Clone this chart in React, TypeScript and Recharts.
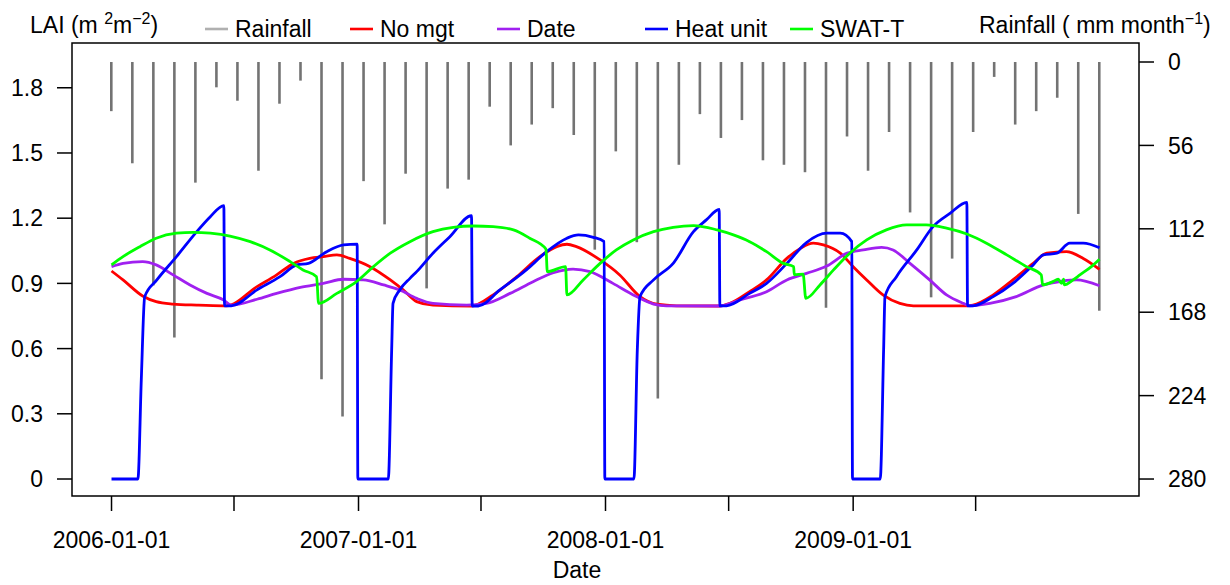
import React from 'react';
import { ComposedChart, Bar, Line, XAxis, YAxis, ReferenceArea } from 'recharts';

const FONT = '"Liberation Sans", Arial, Helvetica, sans-serif';

// ---- Rainfall (mm month^-1), monthly 2006-01 .. 2009-12 ----
const rainMonths = [
  '2006-01','2006-02','2006-03','2006-04','2006-05','2006-06','2006-07','2006-08','2006-09','2006-10','2006-11','2006-12',
  '2007-01','2007-02','2007-03','2007-04','2007-05','2007-06','2007-07','2007-08','2007-09','2007-10','2007-11','2007-12',
  '2008-01','2008-02','2008-03','2008-04','2008-05','2008-06','2008-07','2008-08','2008-09','2008-10','2008-11','2008-12',
  '2009-01','2009-02','2009-03','2009-04','2009-05','2009-06','2009-07','2009-08','2009-09','2009-10','2009-11','2009-12',
];
const rainfall = [
  33, 68, 150, 185, 81, 17, 26, 73, 28, 12.5, 213, 238,
  80, 109, 75, 152, 85, 79, 30, 56, 42, 31, 49, 126,
  60, 121, 226, 69, 35, 51, 39, 66, 69, 74, 165, 50,
  73, 47, 101, 158, 132, 47, 10, 42, 33, 24, 102, 167,
];

// ---- LAI series ----
const noMgtDates = [
  '2006-01-01','2006-01-18','2006-02-16','2006-03-08','2006-04-02','2006-05-07','2006-06-15','2006-06-20','2006-08-04','2006-09-02',
  '2006-09-27','2006-10-21','2006-11-10','2006-11-30','2006-12-19','2007-01-18','2007-02-17','2007-03-08','2007-03-28','2007-04-21',
  '2007-06-17','2007-07-19','2007-08-23','2007-09-26','2007-10-21','2007-11-05','2007-11-19','2007-12-24','2008-01-22','2008-02-21',
  '2008-03-17','2008-04-15','2008-06-17','2008-07-03','2008-08-01','2008-08-26','2008-09-25','2008-10-15','2008-11-03','2008-11-18',
  '2008-12-13','2009-01-01','2009-01-21','2009-02-14','2009-03-11','2009-03-31','2009-06-18','2009-06-27','2009-07-27','2009-08-25',
  '2009-09-24','2009-10-14','2009-11-12','2009-12-07','2009-12-31',
];
const noMgtLAI = [
  0.957, 0.916, 0.842, 0.816, 0.805, 0.800, 0.797, 0.797, 0.885, 0.939,
  0.992, 1.015, 1.023, 1.031, 1.015, 0.977, 0.916, 0.870, 0.816, 0.800,
  0.796, 0.847, 0.931, 1.023, 1.069, 1.080, 1.069, 1.008, 0.939, 0.839,
  0.804, 0.797, 0.796, 0.808, 0.862, 0.916, 1.015, 1.061, 1.085, 1.077,
  1.039, 0.977, 0.916, 0.847, 0.808, 0.797, 0.797, 0.800, 0.847, 0.916,
  0.992, 1.039, 1.046, 1.015, 0.965,
];

const dateDates = [
  '2006-01-01','2006-01-18','2006-02-16','2006-03-08','2006-04-02','2006-04-27','2006-05-22','2006-06-15','2006-06-27','2006-08-04',
  '2006-09-02','2006-10-07','2006-11-10','2006-12-10','2007-01-08','2007-02-07','2007-03-03','2007-03-28','2007-04-21','2007-06-10',
  '2007-07-09','2007-08-13','2007-09-16','2007-10-16','2007-11-14','2007-12-09','2008-01-12','2008-02-11','2008-03-12','2008-03-31',
  '2008-06-17','2008-07-18','2008-08-26','2008-09-25','2008-10-24','2008-11-23','2008-12-23','2009-01-16','2009-02-12','2009-03-01',
  '2009-03-26','2009-04-24','2009-05-19','2009-06-13','2009-06-22','2009-07-22','2009-08-30','2009-10-09','2009-11-07','2009-11-27',
  '2009-12-31',
];
const dateLAI = [
  0.977, 0.992, 1.000, 0.985, 0.939, 0.893, 0.854, 0.825, 0.800, 0.827,
  0.854, 0.882, 0.900, 0.919, 0.916, 0.893, 0.870, 0.831, 0.808, 0.800,
  0.808, 0.854, 0.908, 0.949, 0.966, 0.954, 0.900, 0.847, 0.805, 0.797,
  0.796, 0.824, 0.862, 0.916, 0.946, 0.980, 1.039, 1.054, 1.066, 1.054,
  0.992, 0.916, 0.847, 0.808, 0.797, 0.808, 0.839, 0.893, 0.911, 0.916,
  0.889,
];

const heatDates = [
  '2006-01-01','2006-02-09','2006-02-14','2006-02-19','2006-03-09','2006-04-07','2006-05-07','2006-05-27','2006-06-16','2006-06-17',
  '2006-06-27','2006-08-04','2006-09-07','2006-10-02','2006-10-19','2006-11-15','2006-12-10','2006-12-30','2006-12-31','2007-02-14',
  '2007-02-19','2007-02-21','2007-03-03','2007-03-18','2007-03-28','2007-04-21','2007-05-16','2007-06-17','2007-06-18','2007-06-27',
  '2007-07-29','2007-09-06','2007-10-06','2007-11-05','2007-11-22','2007-12-14','2007-12-30','2007-12-31','2008-02-12','2008-02-17',
  '2008-02-21','2008-03-12','2008-04-10','2008-05-10','2008-05-29','2008-06-17','2008-06-18','2008-06-28','2008-08-01','2008-08-26',
  '2008-09-25','2008-10-24','2008-11-23','2008-12-13','2008-12-30','2008-12-31','2009-02-10','2009-02-15','2009-02-17','2009-03-06',
  '2009-04-05','2009-04-29','2009-05-24','2009-06-18','2009-06-19','2009-06-27','2009-07-27','2009-08-25','2009-09-24','2009-10-09',
  '2009-10-29','2009-11-17','2009-12-07','2009-12-31',
];
const heatLAI = [
  0, 0, 0.456, 0.839, 0.916, 1.023, 1.138, 1.207, 1.258, 0.797,
  0.797, 0.870, 0.931, 0.985, 0.992, 1.046, 1.077, 1.081, 0, 0,
  0.594, 0.808, 0.870, 0.923, 0.954, 1.039, 1.115, 1.212, 0.796, 0.796,
  0.870, 0.962, 1.046, 1.108, 1.123, 1.112, 1.092, 0, 0, 0.594,
  0.839, 0.916, 0.992, 1.138, 1.192, 1.240, 0.797, 0.797, 0.854, 0.900,
  0.992, 1.088, 1.131, 1.131, 1.092, 0, 0, 0.594, 0.839, 0.931,
  1.054, 1.161, 1.222, 1.273, 0.797, 0.797, 0.839, 0.900, 0.985, 1.031,
  1.039, 1.085, 1.085, 1.064,
];

const swatDates = [
  '2006-01-01','2006-01-18','2006-02-12','2006-03-08','2006-04-07','2006-05-02','2006-05-27','2006-06-25','2006-07-25','2006-08-23',
  '2006-09-22','2006-10-11','2006-10-31','2006-11-03','2006-11-30','2006-12-29','2007-01-23','2007-02-17','2007-03-18','2007-04-21',
  '2007-05-21','2007-06-20','2007-07-19','2007-08-18','2007-09-11','2007-10-05','2007-10-07','2007-11-03','2007-11-05','2007-11-29',
  '2007-12-24','2008-01-17','2008-02-11','2008-03-12','2008-04-10','2008-05-10','2008-06-14','2008-07-08','2008-08-01','2008-08-26',
  '2008-09-20','2008-10-05','2008-10-06','2008-10-19','2008-10-23','2008-11-13','2008-12-03','2008-12-27','2009-01-21','2009-02-19',
  '2009-03-21','2009-04-19','2009-05-19','2009-06-18','2009-07-17','2009-08-16','2009-09-14','2009-10-06','2009-10-08','2009-10-23',
  '2009-10-31','2009-11-05','2009-11-08','2009-11-09','2009-11-22','2009-12-02','2009-12-19','2009-12-31',
];
const swatLAI = [
  0.985, 1.023, 1.069, 1.108, 1.131, 1.135, 1.131, 1.118, 1.092, 1.054,
  1.000, 0.962, 0.931, 0.808, 0.854, 0.908, 0.977, 1.039, 1.092, 1.138,
  1.158, 1.164, 1.161, 1.146, 1.108, 1.058, 0.954, 0.977, 0.847, 0.916,
  0.992, 1.054, 1.100, 1.138, 1.158, 1.166, 1.146, 1.123, 1.092, 1.046,
  0.992, 0.977, 0.939, 0.943, 0.831, 0.893, 0.962, 1.039, 1.100, 1.146,
  1.169, 1.169, 1.154, 1.127, 1.085, 1.031, 0.977, 0.939, 0.893, 0.908,
  0.919, 0.900, 0.919, 0.893, 0.916, 0.939, 0.977, 1.011,
];

// ---- Axis ticks ----
const xTickDates = ['2006-01-01','2006-07-01','2007-01-01','2007-07-01','2008-01-01','2008-07-01','2009-01-01','2009-07-01'];
const xTickLabels = ['2006-01-01','','2007-01-01','','2008-01-01','','2009-01-01',''];
const laiTicks = [0, 0.3, 0.6, 0.9, 1.2, 1.5, 1.8];
const rainTicks = [0, 56, 112, 168, 224, 280];

const legendItems = [
  { label: 'Rainfall', color: '#b0b0b0' },
  { label: 'No mgt', color: '#ff0000' },
  { label: 'Date', color: '#a020f0' },
  { label: 'Heat unit', color: '#0000ff' },
  { label: 'SWAT-T', color: '#00ff00' },
];
const legendX = [205, 350, 497, 645, 790];

// ---- helpers ----
const dayOf = (s: string) => {
  const [y, m, d] = s.split('-').map(Number);
  return (Date.UTC(y, m - 1, d) - Date.UTC(2006, 0, 1)) / 86400000;
};
const toRows = (dates: string[], vals: number[]) => dates.map((d, i) => ({ t: dayOf(d), v: vals[i] }));

const rainRows = rainMonths.map((m, i) => ({ month: m, idx: i + 1, rain: rainfall[i] }));
const noMgtRows = toRows(noMgtDates, noMgtLAI);
const dateRows = toRows(dateDates, dateLAI);
const heatRows = toRows(heatDates, heatLAI);
const swatRows = toRows(swatDates, swatLAI);

const spanDays = dayOf('2009-12-31');
const padDays = spanDays * 0.04;
const dayDomain: [number, number] = [-padDays, spanDays + padDays];
const idxPad = (rainMonths.length - 1) * 0.04;
const idxDomain: [number, number] = [1 - idxPad, rainMonths.length + idxPad];
const laiDomain: [number, number] = [-0.0782, 2.006];
const rainDomain: [number, number] = [-12.76, 291.4];

const xTickDays = xTickDates.map(dayOf);
const xLabelOf = (v: number) => {
  const i = xTickDays.indexOf(v);
  return i >= 0 ? xTickLabels[i] : '';
};

const tickStyle = { fill: '#000', fontSize: 23, fontFamily: FONT };
const tickLineStyle = { stroke: '#000', strokeWidth: 1.5 };
const LW = 2.8;

export default function App() {
  return (
    <div style={{ position: 'absolute', left: 0, top: 0, width: 1230, height: 585, background: '#fff' }}>
      <ComposedChart
        width={1230}
        height={585}
        data={rainRows}
        margin={{ top: 43, right: 0, bottom: 0, left: 0 }}
      >
        <XAxis
          xAxisId="t"
          dataKey="t"
          type="number"
          domain={dayDomain}
          allowDataOverflow
          ticks={xTickDays}
          interval={0}
          tickFormatter={xLabelOf}
          height={89}
          tickSize={15}
          tickMargin={21}
          axisLine={false}
          tickLine={tickLineStyle}
          tick={tickStyle}
        />
        <XAxis
          xAxisId="idx"
          dataKey="idx"
          type="number"
          domain={idxDomain}
          allowDataOverflow
          height={0}
          hide
        />
        <YAxis
          yAxisId="lai"
          orientation="left"
          type="number"
          domain={laiDomain}
          allowDataOverflow
          ticks={laiTicks}
          interval={0}
          tickFormatter={(v: number) => (v === 0 ? '0' : v.toFixed(1))}
          width={72}
          tickSize={15}
          tickMargin={14}
          axisLine={false}
          tickLine={tickLineStyle}
          tick={tickStyle}
        />
        <YAxis
          yAxisId="rain"
          orientation="right"
          type="number"
          reversed
          domain={rainDomain}
          allowDataOverflow
          ticks={rainTicks}
          interval={0}
          width={91}
          tickSize={15}
          tickMargin={14}
          axisLine={false}
          tickLine={tickLineStyle}
          tick={tickStyle}
        />
        <Bar
          xAxisId="idx"
          yAxisId="rain"
          dataKey="rain"
          barSize={2.6}
          fill="#737373"
          isAnimationActive={false}
        />
        <Line xAxisId="t" yAxisId="lai" data={noMgtRows} dataKey="v" type="monotone" stroke="#ff0000" strokeWidth={LW} dot={false} isAnimationActive={false} />
        <Line xAxisId="t" yAxisId="lai" data={dateRows} dataKey="v" type="monotone" stroke="#a020f0" strokeWidth={LW} dot={false} isAnimationActive={false} />
        <Line xAxisId="t" yAxisId="lai" data={heatRows} dataKey="v" type="monotone" stroke="#0000ff" strokeWidth={LW} dot={false} isAnimationActive={false} />
        <Line xAxisId="t" yAxisId="lai" data={swatRows} dataKey="v" type="monotone" stroke="#00ff00" strokeWidth={LW} dot={false} isAnimationActive={false} />
        <ReferenceArea
          xAxisId="t"
          yAxisId="lai"
          x1={dayDomain[0]}
          x2={dayDomain[1]}
          y1={laiDomain[0]}
          y2={laiDomain[1]}
          fill="none"
          fillOpacity={0}
          stroke="#000"
          strokeWidth={1.5}
          ifOverflow="visible"
        />
      </ComposedChart>
      <svg
        width={1230}
        height={585}
        style={{ position: 'absolute', left: 0, top: 0, pointerEvents: 'none' }}
        fontFamily={FONT}
      >
        <text x={30} y={33} fontSize={23} fill="#000">
          LAI (m <tspan fontSize={16} dy={-9}>2</tspan>
          <tspan dy={9}>m</tspan>
          <tspan fontSize={16} dy={-9}>−2</tspan>
          <tspan dy={9}>)</tspan>
        </text>
        {legendItems.map((it, i) => (
          <g key={it.label}>
            <line x1={legendX[i]} x2={legendX[i] + 23} y1={29} y2={29} stroke={it.color} strokeWidth={2.6} />
            <text x={legendX[i] + 30} y={37} fontSize={23} fill="#000">{it.label}</text>
          </g>
        ))}
        <text x={979} y={33} fontSize={23} fill="#000">
          Rainfall ( mm month<tspan fontSize={16} dy={-9}>−1</tspan>
          <tspan dy={9}>)</tspan>
        </text>
        <text x={577} y={578} fontSize={23} fill="#000" textAnchor="middle">Date</text>
      </svg>
    </div>
  );
}
